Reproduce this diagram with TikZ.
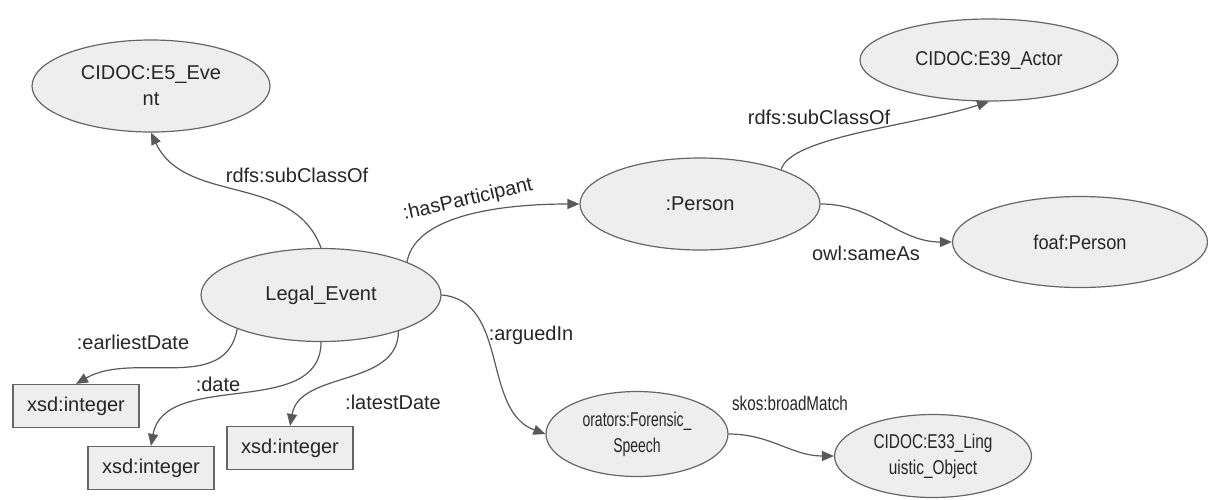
\documentclass[tikz,border=0pt]{standalone}
\usepackage{graphicx,xcolor}
\usepackage{fontspec}
\setmainfont{Liberation Sans}
\usetikzlibrary{shapes.geometric,arrows.meta,positioning}
\definecolor{nodefill}{HTML}{EEEEEE}
\definecolor{nodeline}{HTML}{666666}
\definecolor{edgeline}{HTML}{595959}
\newcommand{\sq}[2]{\scalebox{#1}[1]{#2}}

\tikzset{
  cls/.style={ellipse, draw=nodeline, fill=nodefill, line width=0.6pt, inner sep=0pt,
    align=center, text=black!85, font=\fontsize{10}{13}\selectfont},
  lit/.style={rectangle, draw=nodeline, fill=nodefill, line width=0.6pt, inner sep=0pt,
    minimum width=63pt, minimum height=21.5pt, text=black!85, font=\fontsize{10}{13}\selectfont},
  rel/.style={draw=edgeline, line width=0.6pt, -{Triangle[length=6pt,width=5pt]}},
  lbl/.style={inner sep=0pt, text=black!85, font=\fontsize{10}{13}\selectfont}
}

\begin{document}
\begin{tikzpicture}[x=0.5pt, y=0.5pt]
    \useasboundingbox (0,0) rectangle (1208,-499);

    \node[cls, minimum width=119pt, minimum height=46pt] (e5) at (151,-86) {CIDOC:E5\_Eve\\nt};
    \node[cls, minimum width=129pt, minimum height=41pt] (actor) at (989,-60) {\sq{0.9}{CIDOC:E39\_Actor}};
    \node[cls, minimum width=120pt, minimum height=46pt] (person) at (700,-204) {:Person};
    \node[cls, minimum width=127.5pt, minimum height=45.5pt] (foaf) at (1080,-242) {\sq{0.91}{foaf:Person}};
    \node[cls, minimum width=120pt, minimum height=46.5pt] (event) at (321,-295) {Legal\_Event};
    \node[cls, minimum width=91pt, minimum height=42.5pt] (speech) at (637,-434)
        {\sq{0.7}{orators:Forensic\_}\\\sq{0.7}{Speech}};
    \node[cls, minimum width=98.5pt, minimum height=41.5pt] (lingobj) at (933,-456)
        {\sq{0.77}{CIDOC:E33\_Ling}\\\sq{0.77}{uistic\_Object}};

    \node[lit] (earliest) at (76,-406) {xsd:integer};
    \node[lit] (date) at (151,-468) {xsd:integer};
    \node[lit] (latest) at (290,-448) {xsd:integer};

    \node[lbl] (subclsE5) at (297,-175) {rdfs:subClassOf};
    \node[lbl, rotate=13] (haspart) at (468,-200) {:hasParticipant};
    \node[lbl] (argued) at (531,-335) {:arguedIn};
    \node[lbl] (subclsE39) at (819,-117) {rdfs:subClassOf};
    \node[lbl] (sameas) at (866,-253) {owl:sameAs};
    \node[lbl] (broad) at (790,-403) {\sq{0.76}{skos:broadMatch}};
    \node[lbl] (earlylbl) at (133,-342) {:earliestDate};
    \node[lbl] (datelbl) at (218,-384) {:date};
    \node[lbl] (latelbl) at (393,-402) {:latestDate};

    \draw[rel] (event.north) to[out=110,in=-65] (e5.south);
    \draw[rel] (event.21) to[out=80,in=180,out looseness=0.7] (person.west);
    \draw[rel] (event.east) to[out=-5,in=160] (speech.west);
    \draw[rel] (person.23) to[out=75,in=-162,out looseness=0.4,in looseness=0.9] (actor.south);
    \draw[rel] (person.east) to[out=0,in=180] (foaf.west);
    \draw[rel] (speech.east) to[out=0,in=180] (lingobj.west);
    \draw[rel] (event.202) to[out=-100,in=30] (earliest.north);
    \draw[rel] (event.south) to[out=-90,in=80] (date.north);
    \draw[rel] (event.335) to[out=-90,in=80] (latest.north);
\end{tikzpicture}
\end{document}
